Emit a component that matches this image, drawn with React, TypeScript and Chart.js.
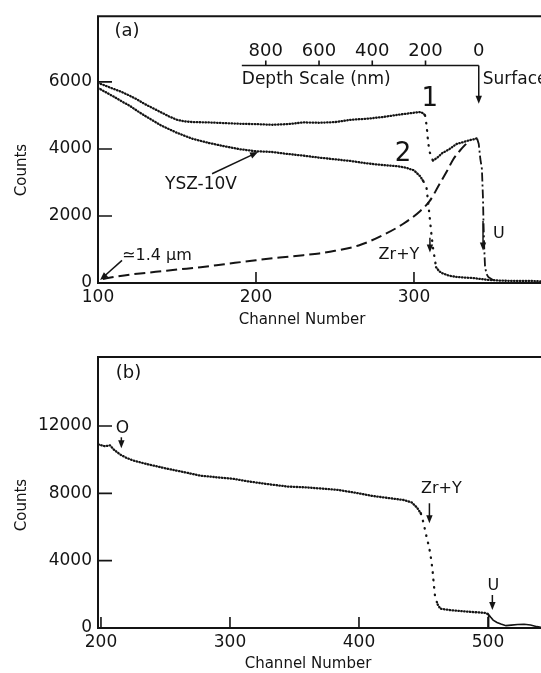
import React, { useEffect, useRef } from "react";
import { Chart, registerables } from "chart.js";

Chart.register(...registerables);

const FONT = "'DejaVu Sans', 'Liberation Sans', sans-serif";
const INK = "#141414";

// ---------- Panel (a) data ----------
const xTicksA = [100, 200, 300];
const yTicksA = [0, 2000, 4000, 6000];

// spectrum 1 (upper dotted curve)
const chanA1 = [100, 105, 110, 115, 120, 125, 130, 135, 140, 145, 150, 155, 160, 170, 180, 190, 200, 210, 220, 230, 240, 250, 260, 270, 280, 290, 300, 304, 306, 307, 308, 309, 310, 312, 315, 318, 322, 327, 331, 335, 338, 340];
const countsA1 = [5970, 5880, 5790, 5700, 5590, 5470, 5330, 5210, 5090, 4970, 4870, 4820, 4800, 4790, 4770, 4750, 4740, 4720, 4740, 4790, 4780, 4800, 4870, 4900, 4950, 5020, 5080, 5100, 5060, 5000, 4700, 4180, 3900, 3650, 3750, 3880, 3980, 4150, 4200, 4260, 4290, 4320];

// U edge of spectrum 1 (dash-dot)
const chanAU = [340, 341, 342, 343, 343.7, 344, 344.5, 345, 346, 347, 350];
const countsAU = [4300, 4150, 3700, 3400, 2500, 1800, 1000, 470, 260, 180, 90];

// spectrum 2 (lower dotted curve)
const chanA2 = [100, 105, 110, 115, 120, 125, 130, 135, 140, 145, 150, 160, 170, 180, 190, 200, 210, 220, 230, 240, 250, 260, 270, 280, 290, 295, 300, 304, 306, 308, 310, 311, 312, 314, 316, 318, 322, 327, 332, 337, 342, 348, 355, 365, 375, 380];
const countsA2 = [5820, 5690, 5560, 5420, 5290, 5130, 4980, 4840, 4700, 4590, 4480, 4300, 4180, 4080, 3990, 3930, 3910, 3850, 3800, 3740, 3690, 3640, 3570, 3520, 3480, 3440, 3360, 3180, 3030, 2820, 1940, 1470, 1060, 470, 350, 290, 220, 180, 160, 150, 120, 90, 70, 60, 60, 50];

// calculated U profile (dashed)
const chanCalc = [103, 110, 120, 130, 140, 150, 165, 180, 200, 215, 230, 240, 250, 265, 280, 293, 304, 310, 316, 321, 325, 330, 334];
const countsCalc = [120, 180, 250, 300, 350, 400, 470, 560, 680, 760, 830, 880, 960, 1120, 1420, 1760, 2150, 2450, 2940, 3350, 3700, 4000, 4200];

// depth scale (nm)
const depthTicks = [800, 600, 400, 200, 0];
const depthZeroChannel = 341;
const channelsPer200nm = 33.7;
const depthStartNm = 890;
const depthLineCounts = 6490;
const depthLabelCounts = 6916;
const depthTextCounts = 6080;

// ---------- Panel (b) data ----------
const xTicksB = [200, 300, 400, 500];
const yTicksB = [0, 4000, 8000, 12000];

const chanB = [198, 203, 207, 210, 215, 220, 225, 235, 251, 265, 277, 290, 302, 315, 329, 345, 360, 384, 400, 410, 425, 435, 441, 445, 448, 450, 452, 454.5, 456, 457, 458, 459, 461, 463, 470, 480, 490, 498, 500.5];
const countsB = [10900, 10800, 10850, 10600, 10300, 10100, 9950, 9750, 9470, 9250, 9050, 8950, 8870, 8700, 8550, 8400, 8350, 8200, 8000, 7850, 7700, 7600, 7450, 7150, 6800, 6250, 5550, 4750, 4050, 3450, 2600, 1850, 1400, 1150, 1070, 1000, 940, 890, 800];

const chanBU = [500.5, 500.5, 502, 504, 507, 510, 514, 518, 523, 528, 533, 538, 541];
const countsBU = [0, 800, 650, 470, 330, 240, 140, 170, 210, 220, 180, 80, 40];

// ---------- annotations (data coordinates) ----------
type Label = { text: string; x: number; y: number; size: number; align?: CanvasTextAlign };
type Arrow = { x0: number; y0: number; x1: number; y1: number };

const labelsA: Label[] = [
  { text: "(a)", x: 118.4, y: 7520, size: 18 },
  { text: "1", x: 310, y: 5470, size: 26 },
  { text: "2", x: 293, y: 3850, size: 26 },
  { text: "YSZ-10V", x: 165.2, y: 2940, size: 17 },
  { text: "\u22431.4 \u00b5m", x: 137.3, y: 820, size: 16 },
  { text: "Zr+Y", x: 290.5, y: 850, size: 16 },
  { text: "U", x: 353.8, y: 1470, size: 16 },
];
const arrowsA: Arrow[] = [
  { x0: 172.2, y0: 3260, x1: 201.3, y1: 3906 },
  { x0: 115.2, y0: 675, x1: 101.3, y1: 90 },
  { x0: 310.1, y0: 1350, x1: 310.1, y1: 910 },
  { x0: 343.7, y0: 1850, x1: 343.7, y1: 970 },
  { x0: 341, y0: 6490, x1: 341, y1: 5345 },
];

const labelsB: Label[] = [
  { text: "(b)", x: 221.3, y: 15125, size: 18 },
  { text: "O", x: 216.6, y: 11860, size: 17 },
  { text: "Zr+Y", x: 463.9, y: 8240, size: 16 },
  { text: "U", x: 504.2, y: 2490, size: 16 },
];
const arrowsB: Arrow[] = [
  { x0: 215.8, y0: 11330, x1: 215.8, y1: 10680 },
  { x0: 454.6, y0: 7410, x1: 454.6, y1: 6230 },
  { x0: 503.4, y0: 1960, x1: 503.4, y1: 1070 },
];

// ---------- helpers ----------
const pts = (xs: number[], ys: number[]) => xs.map((x, i) => ({ x, y: ys[i] }));
const steepDash = (c: any) => (Math.abs(c.p1.y - c.p0.y) > 7 ? [0.5, 7] : undefined);

function dottedSet(data: any[]) {
  return {
    data,
    showLine: true,
    borderColor: INK,
    borderWidth: 2.3,
    borderDash: [0.5, 2.4],
    borderCapStyle: "round",
    pointRadius: 0,
    tension: 0,
    segment: { borderDash: steepDash },
  };
}

function drawArrow(ctx: CanvasRenderingContext2D, x0: number, y0: number, x1: number, y1: number) {
  const ang = Math.atan2(y1 - y0, x1 - x0);
  const L = 8, W = 3.2;
  ctx.beginPath();
  ctx.moveTo(x0, y0);
  ctx.lineTo(x1 - Math.cos(ang) * L * 0.6, y1 - Math.sin(ang) * L * 0.6);
  ctx.stroke();
  ctx.beginPath();
  ctx.moveTo(x1, y1);
  ctx.lineTo(x1 - Math.cos(ang) * L - Math.sin(ang) * W, y1 - Math.sin(ang) * L + Math.cos(ang) * W);
  ctx.lineTo(x1 - Math.cos(ang) * L + Math.sin(ang) * W, y1 - Math.sin(ang) * L - Math.cos(ang) * W);
  ctx.closePath();
  ctx.fill();
}

type PanelSpec = {
  xTicks: number[];
  yTicks: number[];
  labels: Label[];
  arrows: Arrow[];
  countsTitle: [number, number];
  channelTitle: [number, number];
  depth?: boolean;
};

function annotPlugin(spec: PanelSpec) {
  return {
    id: "annot",
    afterDraw(chart: any) {
      const { ctx, chartArea: a } = chart;
      const x = chart.scales.x, y = chart.scales.y;
      ctx.save();
      ctx.strokeStyle = INK;
      ctx.fillStyle = INK;
      ctx.lineCap = "butt";
      // frame
      ctx.lineWidth = 2;
      ctx.beginPath();
      ctx.moveTo(a.right, a.top);
      ctx.lineTo(a.left, a.top);
      ctx.lineTo(a.left, a.bottom);
      ctx.lineTo(a.right, a.bottom);
      ctx.stroke();
      // inward ticks
      ctx.lineWidth = 1.6;
      ctx.beginPath();
      spec.yTicks.forEach((v) => {
        const py = y.getPixelForValue(v);
        ctx.moveTo(a.left, py);
        ctx.lineTo(a.left + 14, py);
      });
      spec.xTicks.forEach((v) => {
        const px = x.getPixelForValue(v);
        ctx.moveTo(px, a.bottom);
        ctx.lineTo(px, a.bottom - 11);
      });
      ctx.stroke();
      // axis titles
      ctx.font = `15px ${FONT}`;
      ctx.textAlign = "center";
      ctx.textBaseline = "middle";
      ctx.fillText("Channel Number", spec.channelTitle[0], spec.channelTitle[1]);
      ctx.save();
      ctx.translate(spec.countsTitle[0], spec.countsTitle[1]);
      ctx.rotate(-Math.PI / 2);
      ctx.fillText("Counts", 0, 0);
      ctx.restore();
      // depth scale
      if (spec.depth) {
        const chOf = (d: number) => depthZeroChannel - (d / 200) * channelsPer200nm;
        const yl = y.getPixelForValue(depthLineCounts);
        const xs = x.getPixelForValue(chOf(depthStartNm));
        const xe = x.getPixelForValue(chOf(0));
        ctx.lineWidth = 1.6;
        ctx.beginPath();
        ctx.moveTo(xs, yl);
        ctx.lineTo(xe, yl);
        depthTicks.forEach((d) => {
          if (d === 0) return;
          const px = x.getPixelForValue(chOf(d));
          ctx.moveTo(px, yl);
          ctx.lineTo(px, yl - 5);
        });
        ctx.stroke();
        ctx.font = `18px ${FONT}`;
        ctx.textAlign = "center";
        const yLab = y.getPixelForValue(depthLabelCounts);
        depthTicks.forEach((d) => {
          ctx.fillText(String(d), x.getPixelForValue(chOf(d)), yLab);
        });
        ctx.font = `17px ${FONT}`;
        ctx.textAlign = "left";
        const yT = y.getPixelForValue(depthTextCounts);
        ctx.fillText("Depth Scale (nm)", xs, yT);
        ctx.fillText("Surface", x.getPixelForValue(chOf(0)) + 4, yT);
      }
      // labels
      spec.labels.forEach((l) => {
        ctx.font = `${l.size}px ${FONT}`;
        ctx.textAlign = l.align || "center";
        ctx.fillText(l.text, x.getPixelForValue(l.x), y.getPixelForValue(l.y));
      });
      // arrows
      ctx.lineWidth = 1.5;
      spec.arrows.forEach((ar) => {
        drawArrow(ctx, x.getPixelForValue(ar.x0), y.getPixelForValue(ar.y0), x.getPixelForValue(ar.x1), y.getPixelForValue(ar.y1));
      });
      ctx.restore();
    },
  };
}

function buildConfig(opts: {
  datasets: any[];
  xMin: number; xMax: number; yMin: number; yMax: number;
  padTop: number; xAxisH: number; spec: PanelSpec;
}): any {
  const tickFont = { family: FONT, size: 17 };
  return {
    type: "scatter",
    data: { datasets: opts.datasets },
    options: {
      animation: false,
      responsive: false,
      maintainAspectRatio: false,
      events: [],
      layout: { padding: { top: opts.padTop, right: 0, left: 0, bottom: 0 } },
      plugins: { legend: { display: false }, tooltip: { enabled: false } },
      scales: {
        x: {
          type: "linear",
          min: opts.xMin,
          max: opts.xMax,
          afterBuildTicks: (s: any) => { s.ticks = opts.spec.xTicks.map((v) => ({ value: v })); },
          afterFit: (s: any) => { s.height = opts.xAxisH; },
          grid: { display: false, drawTicks: false },
          border: { display: false },
          ticks: { color: INK, font: tickFont, padding: 4, maxRotation: 0, autoSkip: false, callback: (v: any) => String(v) },
        },
        y: {
          type: "linear",
          min: opts.yMin,
          max: opts.yMax,
          afterBuildTicks: (s: any) => { s.ticks = opts.spec.yTicks.map((v) => ({ value: v })); },
          afterFit: (s: any) => { s.width = 98; },
          grid: { display: false, drawTicks: false },
          border: { display: false },
          ticks: { color: INK, font: tickFont, padding: 6, autoSkip: false, callback: (v: any) => String(v) },
        },
      },
    },
    plugins: [annotPlugin(opts.spec)],
  };
}

function ChartCanvas({ width, height, top, make }: { width: number; height: number; top: number; make: () => any }) {
  const ref = useRef<HTMLCanvasElement | null>(null);
  useEffect(() => {
    if (!ref.current) return;
    const chart = new Chart(ref.current, make());
    return () => chart.destroy();
  }, []);
  return (
    <div style={{ position: "absolute", left: 0, top, width, height }}>
      <canvas ref={ref} width={width} height={height} style={{ width, height, display: "block" }} />
    </div>
  );
}

const makeA = () =>
  buildConfig({
    datasets: [
      dottedSet(pts(chanA1, countsA1)),
      dottedSet(pts(chanA2, countsA2)),
      {
        data: pts(chanAU, countsAU),
        showLine: true,
        borderColor: INK,
        borderWidth: 1.8,
        borderDash: [9, 3, 2, 3],
        pointRadius: 0,
        tension: 0,
      },
      {
        data: pts(chanCalc, countsCalc),
        showLine: true,
        borderColor: INK,
        borderWidth: 2,
        borderDash: [11, 5],
        pointRadius: 0,
        cubicInterpolationMode: "monotone",
      },
    ],
    xMin: 100, xMax: 380.4, yMin: 0, yMax: 7960,
    padTop: 12, xAxisH: 52,
    spec: {
      xTicks: xTicksA, yTicks: yTicksA, labels: labelsA, arrows: arrowsA,
      countsTitle: [22, 170], channelTitle: [302, 320], depth: true,
    },
  });

const makeB = () =>
  buildConfig({
    datasets: [
      dottedSet(pts(chanB, countsB)),
      {
        data: pts(chanBU, countsBU),
        showLine: true,
        borderColor: INK,
        borderWidth: 1.6,
        pointRadius: 0,
        tension: 0,
      },
    ],
    xMin: 197.7, xMax: 541.1, yMin: 0, yMax: 16100,
    padTop: 22, xAxisH: 45,
    spec: {
      xTicks: xTicksB, yTicks: yTicksB, labels: labelsB, arrows: arrowsB,
      countsTitle: [22, 170], channelTitle: [308, 329],
    },
  });

export default function App() {
  return (
    <div style={{ position: "absolute", left: 0, top: 0, width: 541, height: 673, background: "#fff", overflow: "hidden" }}>
      <ChartCanvas width={541} height={335} top={0} make={makeA} />
      <ChartCanvas width={541} height={338} top={335} make={makeB} />
    </div>
  );
}
